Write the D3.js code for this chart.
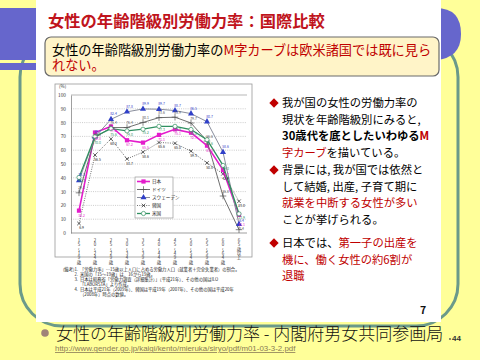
<!DOCTYPE html>
<html>
<head>
<meta charset="utf-8">
<script src="https://cdn.jsdelivr.net/npm/d3@7"></script>
<style>
body { margin: 0; background: #ffff99; }
svg { display: block; }
text { font-family: "Noto Sans CJK JP", "Noto Sans", sans-serif; }
</style>
</head>
<body>
<svg id="slide" width="480" height="360"></svg>
<script>
// DATA
var ages = ["15〜19歳", "20〜24歳", "25〜29歳", "30〜34歳", "35〜39歳", "40〜44歳",
    "45〜49歳", "50〜54歳", "55〜59歳", "60〜64歳", "65歳以上"];
var japan   = [16.2, 72.8, 77.2, 67.2, 65.5, 71.1, 75.1, 72.7, 63.3, 45.7, 13.1];
var germany = [29.1, 69.1, 76.4, 76.4, 80.1, 83.6, 83.9, 79.7, 66.6, 26.8, 2.4];
var sweden  = [38.1, 69.7, 82.4, 87.8, 89.9, 89.7, 88.7, 86.5, 80.7, 58.6, 6.4];
var korea   = [6.9, 56.5, 68.2, 53.7, 58.6, 65.6, 65.0, 59.3, 50.8, 42.9, 23.0];
var usa     = [40.3, 70.0, 75.6, 74.0, 75.2, 77.3, 77.3, 75.0, 67.6, 49.0, 13.9];
var countries = ["日本", "ドイツ", "スウェーデン", "韓国", "米国"];
var yTicks = [0, 10, 20, 30, 40, 50, 60, 70, 80, 90, 100];

var notes = [
    ["(備考)1.", "「労働力率」…15歳以上人口に占める労働力人口（就業者＋完全失業者）の割合。"],
    ["2.", "米国の「15〜19歳」は、16から19歳。"],
    ["3.", "日本は総務省「労働力調査（詳細集計）」（平成21年）、その他の国はILO"],
    ["", "「LABORSTA」より作成。"],
    ["4.", "日本は平成21年（2009年）、韓国は平成19年（2007年）、その他の国は平成20年"],
    ["", "（2008年）時点の数値。"]
];

const svg = d3.select("#slide");

// BACKGROUND FRAME
svg.append("rect").attr("width", 480).attr("height", 360).attr("fill", "#ffff99");
svg.append("rect")
    .attr("x", 20).attr("y", 35).attr("width", 438).attr("height", 291)
    .attr("rx", 42)
    .attr("fill", "none").attr("stroke", "#6b9a8a").attr("stroke-width", 3);
svg.append("path")
    .attr("d", "M0,8 H436 Q461,8 461,34 Q461,58 436,60 H0 Z")
    .attr("fill", "#6666cc");
svg.append("rect").attr("x", 0).attr("y", 63).attr("width", 40).attr("height", 7).attr("fill", "#6666cc");

// SLIDE
svg.append("rect").attr("x", 36).attr("y", 0).attr("width", 405).attr("height", 322).attr("fill", "#ffffff");

svg.append("text")
    .attr("x", 48).attr("y", 27)
    .attr("font-size", 16.3).attr("font-weight", "bold").attr("fill", "#c0141c")
    .text("女性の年齢階級別労働力率：国際比較");

svg.append("rect")
    .attr("x", 45).attr("y", 37).attr("width", 394).attr("height", 39).attr("rx", 6)
    .attr("fill", "#fff4c8").attr("stroke", "#6a6a6a").attr("stroke-width", 1.2);

var lead = svg.append("text").attr("x", 52).attr("y", 55).attr("font-size", 13.2);
lead.append("tspan").attr("fill", "#000").text("女性の年齢階級別労働力率の");
lead.append("tspan").attr("fill", "#c00000").text("M字カーブは欧米諸国では既に見ら");
svg.append("text").attr("x", 52).attr("y", 70).attr("font-size", 13.2).attr("fill", "#c00000").text("れない。");

// CHART
svg.append("rect")
    .attr("x", 55).attr("y", 84).attr("width", 197).attr("height", 173)
    .attr("fill", "none").attr("stroke", "#9a9a9a").attr("stroke-width", 0.8);

var x = d3.scaleBand().domain(ages).range([71, 247]);
var y = d3.scaleLinear().domain([0, 100]).range([233, 95]);
var cx = d => x(d) + x.bandwidth() / 2;

var chart = svg.append("g");

// grid
chart.append("g")
    .selectAll("line")
    .data(yTicks.filter(d => d > 0))
    .join("line")
    .attr("x1", 71).attr("x2", 247)
    .attr("y1", d => y(d)).attr("y2", d => y(d))
    .attr("stroke", d => d === 100 ? "#888" : "#aaa")
    .attr("stroke-width", 0.6)
    .attr("stroke-dasharray", d => d === 100 ? null : "1,1.2");

const yAxis = chart.append("g")
    .attr("transform", "translate(71,0)")
    .call(d3.axisLeft(y).tickValues(yTicks).tickSize(0).tickPadding(5));
yAxis.select(".domain").attr("stroke", "#777").attr("stroke-width", 0.7);
yAxis.selectAll("text").attr("font-size", 4.8).attr("fill", "#333");

chart.append("line")
    .attr("x1", 71).attr("x2", 247).attr("y1", y(0)).attr("y2", y(0))
    .attr("stroke", "#777").attr("stroke-width", 0.7);

chart.append("text").attr("x", 59).attr("y", 88).attr("font-size", 4.5).attr("fill", "#333").text("(%)");

// vertical x labels
chart.append("g")
    .selectAll("text")
    .data(ages)
    .join("text")
    .attr("x", d => cx(d))
    .attr("y", 238)
    .attr("font-size", 4.4)
    .attr("fill", "#333")
    .style("writing-mode", "vertical-rl")
    .style("text-orientation", "upright")
    .text(d => d);

var series = [
    { name: countries[0], values: japan, line: "#e41ccc", mark: "#e41ccc", width: 1.6, dash: null, sym: d3.symbolSquare, size: 18, filled: true, dy: 6 },
    { name: countries[1], values: germany, line: "#6e6e6e", mark: "#555", width: 1, dash: null, sym: d3.symbolPlus || d3.symbolCross, size: 16, filled: false, dy: -3.5 },
    { name: countries[2], values: sweden, line: "#8a8e9c", mark: "#3040c8", width: 1, dash: null, sym: d3.symbolTriangle, size: 16, filled: true, dy: -4 },
    { name: countries[3], values: korea, line: "#333", mark: "#222", width: 0.7, dash: "1,1.3", sym: d3.symbolTimes || d3.symbolCross, size: 10, filled: false, dy: 6 },
    { name: countries[4], values: usa, line: "#2f9060", mark: "#2f9060", width: 1.3, dash: null, sym: d3.symbolCircle, size: 14, filled: false, dy: 5 }
];

var line = d3.line()
    .x((d, i) => cx(ages[i]))
    .y(d => y(d));

series.forEach(s => {
    var g = chart.append("g");
    g.append("path")
        .attr("d", line(s.values))
        .attr("fill", "none")
        .attr("stroke", s.line)
        .attr("stroke-width", s.width)
        .attr("stroke-dasharray", s.dash);
    g.selectAll("path.m")
        .data(s.values)
        .join("path")
        .attr("class", "m")
        .attr("transform", (d, i) => "translate(" + cx(ages[i]) + "," + y(d) + ")")
        .attr("d", d3.symbol(s.sym, s.size))
        .attr("fill", s.filled ? s.mark : "#fff")
        .attr("stroke", s.mark)
        .attr("stroke-width", s.filled ? 0 : 0.7);
});

// data labels, nudged apart inside each age column
ages.forEach((a, i) => {
    var labs = series.map(s => ({ s: s, v: s.values[i], ly: y(s.values[i]) + s.dy }));
    labs.sort((p, q) => p.ly - q.ly);
    for (var k = 1; k < labs.length; k++) {
        if (labs[k].ly - labs[k - 1].ly < 3.6) labs[k].ly = labs[k - 1].ly + 3.6;
    }
    chart.append("g")
        .selectAll("text")
        .data(labs)
        .join("text")
        .attr("x", cx(a) + 2.5)
        .attr("y", d => d.ly)
        .attr("font-size", 3.4)
        .attr("text-anchor", "middle")
        .attr("fill", d => d.s.mark)
        .text(d => d.v.toFixed(1));
});

// legend
var legend = chart.append("g").attr("transform", "translate(135,177)");
legend.append("rect").attr("width", 38).attr("height", 41)
    .attr("fill", "#fff").attr("stroke", "#888").attr("stroke-width", 0.6);
series.forEach((s, i) => {
    var ly = 4.5 + i * 8;
    legend.append("line").attr("x1", 2).attr("x2", 15).attr("y1", ly).attr("y2", ly)
        .attr("stroke", s.line).attr("stroke-width", s.width).attr("stroke-dasharray", s.dash);
    legend.append("path").attr("transform", "translate(8.5," + ly + ")")
        .attr("d", d3.symbol(s.sym, s.size))
        .attr("fill", s.filled ? s.mark : "#fff").attr("stroke", s.mark)
        .attr("stroke-width", s.filled ? 0 : 0.7);
    legend.append("text").attr("x", 17).attr("y", ly + 1.6)
        .attr("font-size", 4.6).attr("fill", "#222").text(s.name);
});

// notes
var noteG = svg.append("g").attr("font-size", 4.3).attr("fill", "#222");
notes.forEach((n, i) => {
    var ny = 271 + i * 4.9;
    noteG.append("text").attr("x", 78).attr("y", ny).attr("text-anchor", "end").text(n[0]);
    noteG.append("text").attr("x", 80).attr("y", ny).text(n[1]);
});

// RIGHT COLUMN
var bullets = [
    { y: 107, lines: [
        [["我が国の女性の労働力率の", "#000", "normal"]],
        [["現状を年齢階級別にみると,", "#000", "normal"]],
        [["30歳代を底としたいわゆる", "#000", "bold"], ["M", "#c00000", "bold"]],
        [["字カーブ", "#c00000", "normal"], ["を描いている。", "#000", "normal"]]
    ] },
    { y: 174, lines: [
        [["背景には, 我が国では依然と", "#000", "normal"]],
        [["して結婚, 出産, 子育て期に", "#000", "normal"]],
        [["就業を中断する女性が多い", "#c00000", "normal"]],
        [["ことが挙げられる。", "#000", "normal"]]
    ] },
    { y: 247, lines: [
        [["日本では、", "#000", "normal"], ["第一子の出産を", "#c00000", "normal"]],
        [["機に、働く女性の約6割が", "#c00000", "normal"]],
        [["退職", "#c00000", "normal"]]
    ] }
];

bullets.forEach(b => {
    svg.append("rect")
        .attr("x", -3.3).attr("y", -3.3).attr("width", 6.6).attr("height", 6.6)
        .attr("transform", "translate(274," + (b.y - 4) + ") rotate(45)")
        .attr("fill", "#c00000");
    b.lines.forEach((ln, i) => {
        var t = svg.append("text").attr("x", 282).attr("y", b.y + i * 16.6).attr("font-size", 11.3);
        ln.forEach(p => t.append("tspan").attr("fill", p[1]).attr("font-weight", p[2]).text(p[0]));
    });
});

svg.append("text").attr("x", 420).attr("y", 314).attr("font-size", 10.5)
    .attr("font-weight", "bold").attr("fill", "#111").text("7");

// FOOTER
svg.append("circle").attr("cx", 45).attr("cy", 333).attr("r", 3.8).attr("fill", "#a08478");
svg.append("text").attr("x", 56).attr("y", 340).attr("font-size", 17)
    .attr("font-weight", 300).attr("fill", "#111")
    .text("女性の年齢階級別労働力率 - 内閣府男女共同参画局");
svg.append("text").attr("x", 55).attr("y", 351).attr("font-size", 7.9)
    .attr("fill", "#8a7a55").attr("text-decoration", "underline")
    .style("font-family", "'Liberation Sans', Arial, sans-serif")
    .text("http://www.gender.go.jp/kaigi/kento/mieruka/siryo/pdf/m01-03-3-2.pdf");
svg.append("circle").attr("cx", 450).attr("cy", 339).attr("r", 0.9).attr("fill", "#555");
svg.append("text").attr("x", 452).attr("y", 341).attr("font-size", 8)
    .attr("font-weight", "bold").attr("fill", "#333")
    .style("font-family", "'Liberation Sans', Arial, sans-serif")
    .text("44");
</script>
</body>
</html>
